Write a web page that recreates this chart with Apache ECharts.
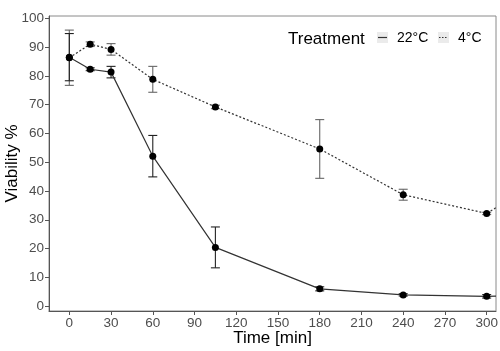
<!DOCTYPE html>
<html>
<head>
<meta charset="utf-8">
<script src="https://cdn.jsdelivr.net/npm/echarts@6/dist/echarts.min.js"></script>
<style>html,body{margin:0;padding:0;background:#fff}#c{width:500px;height:351px}</style>
</head>
<body>
<div id="c"></div>
<script>
// Data
var times = [0, 15, 30, 60, 105, 180, 240, 300];
var v22 = [86.5, 82.3, 81.3, 52.1, 20.4, 6.0, 3.9, 3.4];
var err22 = [8.2, 0.5, 2.0, 7.2, 7.1, 0.7, 0.4, 0.6];
var v4 = [86.3, 91.0, 89.2, 78.8, 69.2, 54.6, 38.7, 32.2];
var err4 = [9.6, 0.8, 2.0, 4.5, 0.6, 10.2, 1.9, 0.4];
// line continuation past the last point (clipped at panel edge)
var tail22 = [306.7, 3.5];
var tail4 = [306.7, 34.2];
var xTicks = [0, 30, 60, 90, 120, 150, 180, 210, 240, 270, 300];
var yTicks = [0, 10, 20, 30, 40, 50, 60, 70, 80, 90, 100];
var seriesNames = ['22°C', '4°C'];
var legendTitle = 'Treatment';

function lineData(vals, tail) {
  var d = times.map(function (t, i) { return [t, vals[i]]; });
  d.push({ value: tail, symbol: 'none' });
  return d;
}
function errData(vals, errs) {
  return times.map(function (t, i) { return [t, vals[i] - errs[i], vals[i] + errs[i]]; });
}
function errRender(color) {
  return function (params, api) {
    var lo = api.coord([api.value(0), api.value(1)]);
    var hi = api.coord([api.value(0), api.value(2)]);
    var w = 4.5;
    var st = { stroke: color, lineWidth: 1.1 };
    return { type: 'group', children: [
      { type: 'line', shape: { x1: lo[0], y1: lo[1], x2: hi[0], y2: hi[1] }, style: st },
      { type: 'line', shape: { x1: lo[0] - w, y1: lo[1], x2: lo[0] + w, y2: lo[1] }, style: st },
      { type: 'line', shape: { x1: hi[0] - w, y1: hi[1], x2: hi[0] + w, y2: hi[1] }, style: st }
    ]};
  };
}

var chart = echarts.init(document.getElementById('c'), null, { renderer: 'canvas' });
var font = 'Liberation Sans, Arial, sans-serif';
chart.setOption({
  animation: false,
  grid: { left: 49, right: 4, top: 16, bottom: 40, containLabel: false, outerBoundsMode: 'none',
    show: true, borderColor: '#8a8a8a', borderWidth: 1, backgroundColor: '#fff' },
  xAxis: {
    type: 'value', min: -14.6, max: 306.7,
    name: 'Time [min]', nameLocation: 'middle', nameGap: 19, nameMoveOverlap: false,
    nameTextStyle: { fontFamily: font, fontSize: 17, color: '#000' },
    axisLine: { show: true, onZero: false, lineStyle: { color: '#555', width: 1 } },
    axisTick: { show: true, length: 4, lineStyle: { color: '#555' }, customValues: xTicks },
    axisLabel: { customValues: xTicks, fontFamily: font, fontSize: 13.5, color: '#4d4d4d', margin: 5 },
    splitLine: { show: false }
  },
  yAxis: {
    type: 'value', min: -1.7, max: 100.8,
    name: 'Viability %', nameLocation: 'middle', nameGap: 28, nameMoveOverlap: false,
    nameTextStyle: { fontFamily: font, fontSize: 17, color: '#000' },
    axisLine: { show: true, onZero: false, lineStyle: { color: '#555', width: 1 } },
    axisTick: { show: true, length: 4, lineStyle: { color: '#555' }, customValues: yTicks },
    axisLabel: { customValues: yTicks, fontFamily: font, fontSize: 13.5, color: '#4d4d4d', margin: 5 },
    splitLine: { show: false }
  },
  series: [
    { type: 'custom', name: 'e4', data: errData(v4, err4), renderItem: errRender('#666'), encode: { x: 0, y: [1, 2] }, z: 2, clip: true },
    { type: 'custom', name: 'e22', data: errData(v22, err22), renderItem: errRender('#222'), encode: { x: 0, y: [1, 2] }, z: 2, clip: true },
    { type: 'line', name: seriesNames[1], data: lineData(v4, tail4), symbol: 'circle', symbolSize: 7,
      itemStyle: { color: '#000' }, lineStyle: { color: '#333', width: 1.2, type: [2, 2] }, z: 3, clip: true },
    { type: 'line', name: seriesNames[0], data: lineData(v22, tail22), symbol: 'circle', symbolSize: 7,
      itemStyle: { color: '#000' }, lineStyle: { color: '#333', width: 1.2 }, z: 3, clip: true }
  ],
  graphic: [
    { type: 'text', left: 288, top: 31, style: { text: legendTitle, fontFamily: font, fontSize: 17, fill: '#000' } },
    { type: 'rect', shape: { x: 377, y: 32, width: 11, height: 11 }, style: { fill: '#ebebeb' } },
    { type: 'line', shape: { x1: 378, y1: 37.5, x2: 387, y2: 37.5 }, style: { stroke: '#333', lineWidth: 1.2 } },
    { type: 'text', left: 397, top: 31.5, style: { text: seriesNames[0], fontFamily: font, fontSize: 14, fill: '#000' } },
    { type: 'rect', shape: { x: 438, y: 32, width: 11, height: 11 }, style: { fill: '#ebebeb' } },
    { type: 'line', shape: { x1: 439, y1: 37.5, x2: 448, y2: 37.5 }, style: { stroke: '#333', lineWidth: 1.2, lineDash: [1.5, 1.5] } },
    { type: 'text', left: 458, top: 31.5, style: { text: seriesNames[1], fontFamily: font, fontSize: 14, fill: '#000' } }
  ]
});
</script>
</body>
</html>
